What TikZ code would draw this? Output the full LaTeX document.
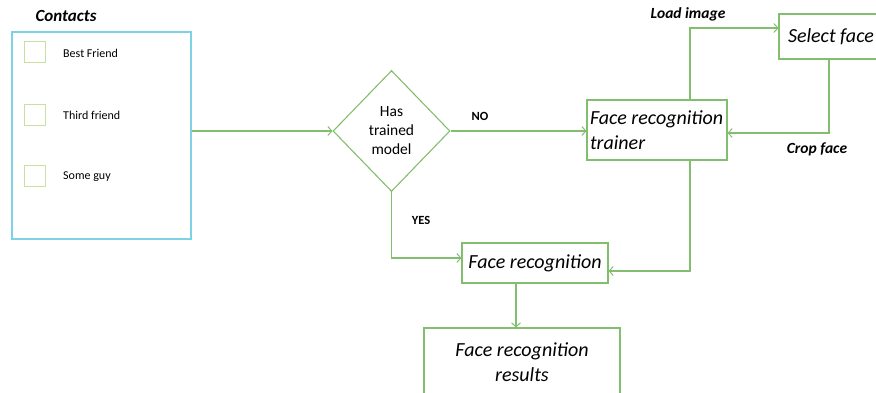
\documentclass[tikz,border=0pt]{standalone}
\usepackage{fontspec}
\setmainfont{Carlito}
\usetikzlibrary{shapes.geometric,arrows.meta}
\definecolor{flowgreen}{RGB}{130,190,110}
\definecolor{tickgreen}{RGB}{200,225,160}
\definecolor{listblue}{RGB}{125,210,228}
\begin{document}
\begin{tikzpicture}[x=1pt,y=-1pt,
  box/.style={draw=flowgreen,line width=1.1pt,rectangle,inner sep=0pt},
  flow/.style={draw=flowgreen,line width=1.1pt,-{Straight Barb[length=4pt,width=9pt,line width=1pt]}},
  bigtext/.style={font=\fontsize{20}{25}\selectfont\itshape},
  smalltext/.style={font=\fontsize{12}{14}\selectfont,anchor=west,inner sep=0pt},
  tag/.style={font=\fontsize{15.5}{17}\selectfont\bfseries\itshape,inner sep=0pt},
  tick/.style={draw=tickgreen,line width=0.8pt,minimum size=21pt,inner sep=0pt}]
\useasboundingbox (0,0) rectangle (876,393);
\clip (0,0) rectangle (876,393);

% contact list
\node[tag,font=\fontsize{17}{19}\selectfont\bfseries\itshape] (title) at (66,16) {Contacts};
\node[draw=listblue,line width=1.3pt,minimum width=179pt,minimum height=207pt,inner sep=0pt] (contacts) at (101.5,135.5) {};
\node[tick] (t1) at (34.5,51.5) {};
\node[tick] (t2) at (34.5,114.5) {};
\node[tick] (t3) at (34.5,176) {};
\node[smalltext] (n1) at (63,53) {Best Friend};
\node[smalltext] (n2) at (63,115) {Third friend};
\node[smalltext] (n3) at (63,177) {Some guy};

% decision
\node[draw=flowgreen,line width=1.1pt,diamond,aspect=0.967,minimum width=117pt,minimum height=121pt,inner sep=0pt,
  align=center,font=\fontsize{15.5}{19}\selectfont] (dia) at (391.5,131) {Has\\trained\\model};

% process boxes
\node[box,bigtext,minimum width=140pt,minimum height=60pt,text width=134pt,inner xsep=3pt,align=flush left] (trainer) at (657,130) {Face recognition\\trainer};
\node[box,bigtext,minimum height=45pt,text width=86pt,inner xsep=9pt,align=flush left] (select) at (831,36.5) {Select face};
\node[box,bigtext,minimum width=146pt,minimum height=40pt] (facerec) at (535,263) {Face recognition};
\node[box,bigtext,minimum width=196pt,minimum height=68pt,align=center] (results) at (522,362) {Face recognition\\results};

% connectors
\draw[flow] (contacts.east |- dia.west) -- (dia.west);
\draw[flow] (dia.east) -- (dia.east -| trainer.west);
\draw[flow] ([xshift=33pt]trainer.north) |- ([yshift=8.5pt]select.west);
\draw[flow] ([xshift=-2pt]select.south) |- ([yshift=-3pt]trainer.east);
\draw[flow] ([xshift=33pt]trainer.south) |- ([yshift=-8pt]facerec.east);
\draw[flow] (dia.south) |- ([yshift=5pt]facerec.west);
\coordinate (down) at ([xshift=-19pt]facerec.south);
\draw[flow] (down) -- (down |- results.north);

% branch labels
\node[tag,font=\fontsize{12.5}{14}\selectfont\bfseries] (no) at (480,116) {NO};
\node[tag,font=\fontsize{12.5}{14}\selectfont\bfseries] (yes) at (421,220) {YES};
\node[tag] (load) at (688,14) {Load image};
\node[tag] (crop) at (817,149) {Crop face};
\end{tikzpicture}
\end{document}
